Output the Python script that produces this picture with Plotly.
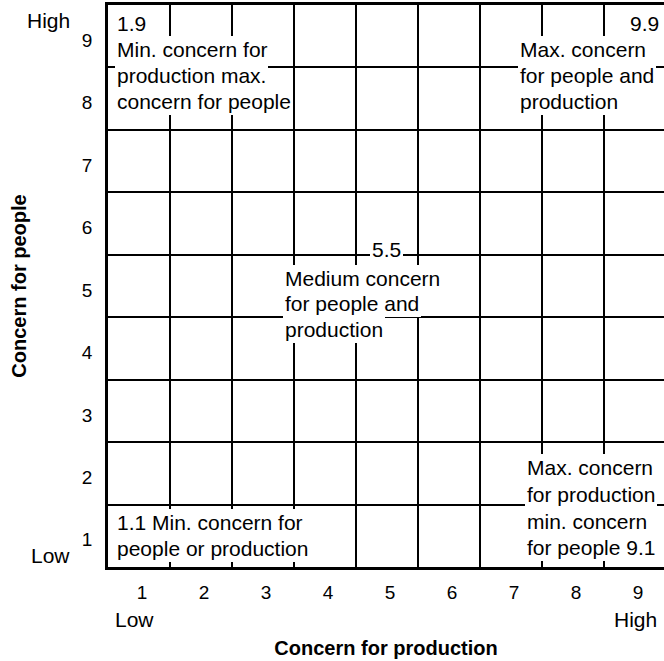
import plotly.graph_objects as go

# Managerial grid: 9 x 9 levels of concern
production_levels = [1, 2, 3, 4, 5, 6, 7, 8, 9]
people_levels = [1, 2, 3, 4, 5, 6, 7, 8, 9]
cell_edges = [0.5, 1.5, 2.5, 3.5, 4.5, 5.5, 6.5, 7.5, 8.5, 9.5]

# the five named styles (production, people)
style_names = ["1.9", "9.9", "5.5", "1.1", "9.1"]
style_production = [1, 9, 5, 1, 9]
style_people = [9, 9, 5, 1, 1]

FONT = "Liberation Sans"
TXT = dict(family=FONT, size=21, color="black")

fig = go.Figure()

# invisible markers for the named styles, so the axes carry the data
fig.add_trace(go.Scatter(
    x=style_production, y=style_people, text=style_names,
    mode="markers", marker=dict(size=1, opacity=0),
    hoverinfo="text", showlegend=False,
))


def label(x, y, text, anchor="left"):
    # white background hides the grid lines behind the text
    fig.add_annotation(
        x=x, y=y, text=text, showarrow=False,
        xanchor=anchor, yanchor="middle",
        font=TXT, bgcolor="white", borderpad=2, borderwidth=0,
    )


step = 0.416  # one text line in grid units

# 1.9 - top left
for i, t in enumerate(["1.9", "Min. concern for", "production max.", "concern for people"]):
    label(0.613, 9.20 - i * step, t)

# 9.9 - top right
label(9.419, 9.20, "9.9", anchor="right")
for i, t in enumerate(["Max. concern", "for people and", "production"]):
    label(7.113, 8.79 - i * step, t)

# 5.5 - middle
label(5.0, 5.58, "5.5", anchor="center")
for i, t in enumerate(["Medium concern", "for people and", "production"]):
    label(3.32, 5.12 - i * 0.405, t)

# 1.1 - bottom left
for i, t in enumerate(["1.1 Min. concern for", "people or production"]):
    label(0.613, 1.21 - i * step, t)

# 9.1 - bottom right
for i, t in enumerate(["Max. concern", "for production", "min. concern", "for people 9.1"]):
    label(7.226, 2.09 - i * 0.427, t)

# Low / High end labels (paper coords, outside the plotting area)
ends = [
    dict(x=-0.065, y=0.973, text="High", xanchor="right"),
    dict(x=-0.065, y=0.021, text="Low", xanchor="right"),
    dict(x=0.009, y=-0.094, text="Low", xanchor="left"),
    dict(x=0.991, y=-0.094, text="High", xanchor="right"),
]
for e in ends:
    fig.add_annotation(
        x=e["x"], y=e["y"], xref="paper", yref="paper",
        text=e["text"], xanchor=e["xanchor"], yanchor="middle",
        showarrow=False, font=TXT,
    )

fig.update_layout(
    width=664,
    height=661,
    margin=dict(l=108, r=0, t=5, b=94),
    plot_bgcolor="white",
    paper_bgcolor="white",
    font=dict(family=FONT, size=19, color="black"),
    showlegend=False,
    xaxis=dict(
        range=[0.5, 9.468],
        tickmode="array",
        tickvals=production_levels,
        ticktext=[str(v) for v in production_levels],
        ticks="",
        ticklabelstandoff=6,
        ticklabelshift=3,
        showgrid=False,
        zeroline=False,
        showline=True, linecolor="black", linewidth=2.5, mirror=True,
        minor=dict(tickmode="array", tickvals=cell_edges, showgrid=True,
                   gridcolor="black", gridwidth=2.4, ticks=""),
        title=dict(text="<b>Concern for production</b>", standoff=40,
                   font=dict(family=FONT, size=20)),
        automargin=False,
        fixedrange=True,
    ),
    yaxis=dict(
        range=[0.5, 9.5],
        tickmode="array",
        tickvals=people_levels,
        ticktext=[str(v) for v in people_levels],
        ticks="",
        ticklabelstandoff=9,
        ticklabelshift=4,
        showgrid=False,
        zeroline=False,
        showline=True, linecolor="black", linewidth=2.5,
        minor=dict(tickmode="array", tickvals=cell_edges, showgrid=True,
                   gridcolor="black", gridwidth=2.4, ticks=""),
        title=dict(text="<b>Concern for people</b>", standoff=50,
                   font=dict(family=FONT, size=20)),
        automargin=False,
        fixedrange=True,
    ),
)

fig.write_html("out.html", config={"displayModeBar": False},
               post_script="document.body.style.margin='0';")
